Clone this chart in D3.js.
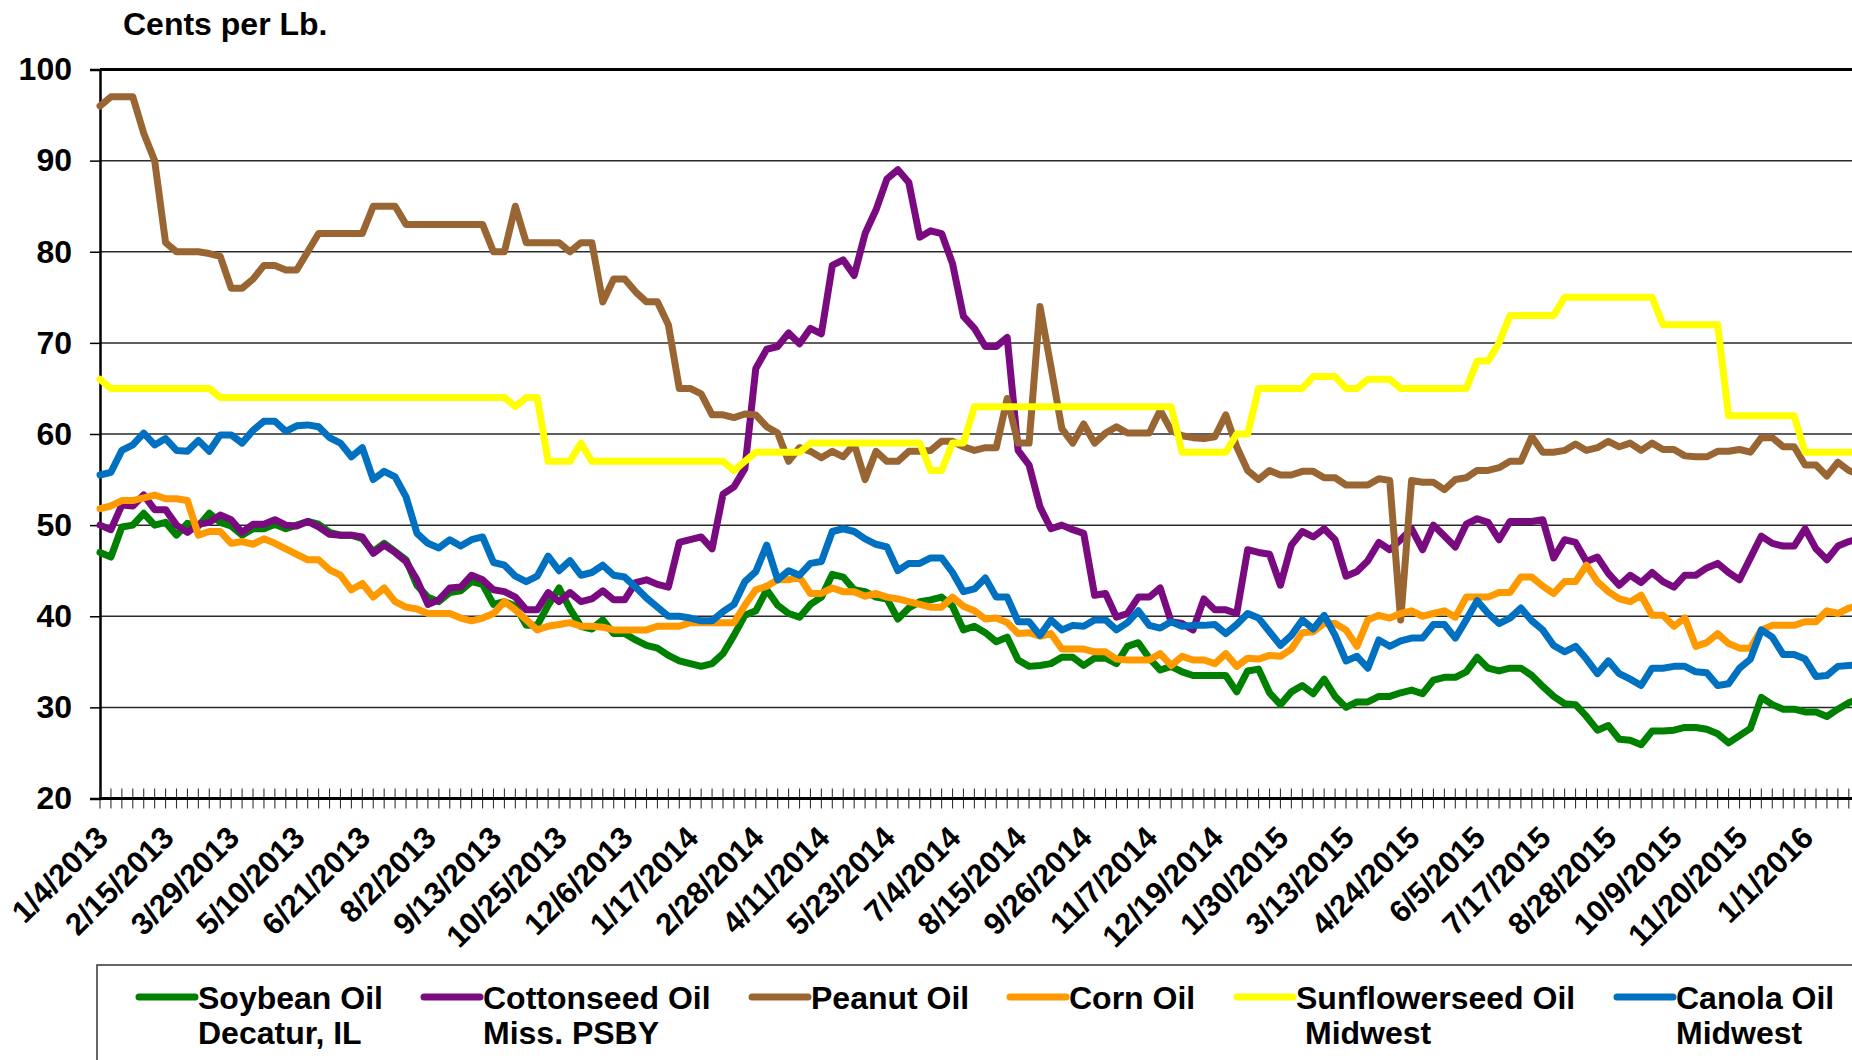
<!DOCTYPE html>
<html>
<head>
<meta charset="utf-8">
<script src="https://cdn.jsdelivr.net/npm/d3@7"></script>
<style>
  html, body { margin: 0; padding: 0; background: #fff; }
  svg { display: block; font-family: "Liberation Sans", Arial, sans-serif; font-weight: bold; }
</style>
</head>
<body>
<svg id="chart" width="1852" height="1060"></svg>
<script>
// Weekly vegetable oil prices, cents per lb, first week ending 1/4/2013
const firstWeek = new Date(2013, 0, 4);

const tickLabels = ["1/4/2013","2/15/2013","3/29/2013","5/10/2013","6/21/2013","8/2/2013",
  "9/13/2013","10/25/2013","12/6/2013","1/17/2014","2/28/2014","4/11/2014","5/23/2014",
  "7/4/2014","8/15/2014","9/26/2014","11/7/2014","12/19/2014","1/30/2015","3/13/2015",
  "4/24/2015","6/5/2015","7/17/2015","8/28/2015","10/9/2015","11/20/2015","1/1/2016"];

const yTicks = [20, 30, 40, 50, 60, 70, 80, 90, 100];

const seriesNames = ["Soybean Oil", "Cottonseed Oil", "Peanut Oil", "Corn Oil", "Sunflowerseed Oil", "Canola Oil"];
const seriesSub   = ["Decatur, IL", "Miss. PSBY", "", "", "Midwest", "Midwest"];
const seriesColors = ["#008000", "#7a0a80", "#996633", "#ff9900", "#ffff00", "#0070c0"];

const soybean = [
  47, 46.5, 49.8, 50, 51.3, 50, 50.3, 48.9, 50.2, 49.9,
  51.3, 50.3, 49.9, 48.9, 49.6, 49.6, 50.1, 49.6, 50, 50.4,
  50.1, 49.2, 48.9, 48.9, 48.5, 47.1, 48, 47.1, 46.2, 43.4,
  42.1, 41.6, 42.6, 42.8, 43.8, 43.5, 41.3, 41.6, 41.1, 39,
  39, 41.2, 43.1, 40.8, 38.9, 38.6, 39.6, 38.1, 38.1, 37.4,
  36.8, 36.5, 35.7, 35.1, 34.8, 34.5, 34.8, 35.9, 37.9, 40.1,
  40.6, 42.9, 41.2, 40.3, 39.9, 41.3, 42.1, 44.6, 44.3, 42.9,
  42.7, 42.1, 41.9, 39.7, 40.9, 41.6, 41.8, 42.1, 41.1, 38.5,
  38.9, 38.2, 37.2, 37.7, 35.2, 34.5, 34.6, 34.8, 35.5, 35.5,
  34.6, 35.4, 35.4, 34.8, 36.7, 37.1, 35.4, 34.1, 34.5, 33.9,
  33.5, 33.5, 33.5, 33.5, 31.7, 34, 34.2, 31.6, 30.3, 31.7,
  32.4, 31.5, 33.1, 31.2, 30, 30.6, 30.6, 31.2, 31.2, 31.6,
  31.9, 31.5, 33, 33.3, 33.3, 33.9, 35.5, 34.3, 34, 34.3,
  34.3, 33.5, 32.3, 31.2, 30.4, 30.3, 29, 27.5, 28, 26.5,
  26.4, 25.9, 27.4, 27.4, 27.5, 27.8, 27.8, 27.6, 27.1, 26.1,
  26.9, 27.7, 31.1, 30.3, 29.8, 29.8, 29.5, 29.5, 29, 29.8,
  30.5, 31
];

const cottonseed = [
  50, 49.5, 52.2, 52.1, 53.3, 51.7, 51.7, 50, 49.2, 50.1,
  50.3, 51.1, 50.6, 49.2, 50.1, 50.1, 50.6, 50, 49.9, 50.4,
  49.8, 49, 48.9, 48.9, 48.7, 46.9, 47.8, 47, 46, 44,
  41.3, 41.8, 43.1, 43.2, 44.5, 44, 42.9, 42.7, 42.1, 40.7,
  40.7, 42.6, 41.6, 42.6, 41.6, 41.9, 42.8, 41.8, 41.8, 43.7,
  44, 43.5, 43.2, 48.1, 48.4, 48.7, 47.4, 53.4, 54.2, 56.2,
  67.2, 69.3, 69.6, 71.1, 69.9, 71.6, 71, 78.5, 79.1, 77.4,
  82, 84.6, 88, 89, 87.6, 81.6, 82.3, 82, 78.7, 72.9,
  71.6, 69.6, 69.6, 70.6, 58.2, 56.6, 52, 49.6, 50, 49.5,
  49.1, 42.3, 42.5, 39.9, 40.3, 42.1, 42.1, 43.1, 39.4, 39.2,
  38.5, 41.9, 40.7, 40.7, 40.3, 47.3, 47, 46.8, 43.4, 47.8,
  49.3, 48.7, 49.6, 48.4, 44.4, 44.9, 46.1, 48.1, 47.3, 48.4,
  49.6, 47.3, 50, 48.8, 47.6, 50.1, 50.7, 50.3, 48.4, 50.4,
  50.4, 50.4, 50.6, 46.4, 48.4, 48.1, 46, 46.5, 44.7, 43.4,
  44.5, 43.7, 44.8, 43.8, 43.2, 44.5, 44.5, 45.3, 45.8, 44.8,
  44, 46.4, 48.8, 48, 47.7, 47.7, 49.6, 47.4, 46.2, 47.7,
  48.2, 48.5
];

const peanut = [
  96, 97, 97, 97, 93, 90, 81, 80, 80, 80,
  79.8, 79.5, 76, 76, 77, 78.5, 78.5, 78, 78, 80,
  82, 82, 82, 82, 82, 85, 85, 85, 83, 83,
  83, 83, 83, 83, 83, 83, 80, 80, 85, 81,
  81, 81, 81, 80, 81, 81, 74.5, 77, 77, 75.6,
  74.5, 74.5, 72, 65, 65, 64.4, 62.1, 62.1, 61.8, 62.2,
  62.1, 60.8, 60.1, 57, 58.5, 58.1, 57.4, 58.1, 57.5, 58.9,
  55, 58.1, 57, 57, 58.1, 58.1, 58.2, 59.2, 59.2, 58.6,
  58.2, 58.5, 58.5, 63.9, 59, 59, 74, 67.4, 60.6, 59,
  61.1, 59, 60.1, 60.8, 60.1, 60.1, 60.1, 62.6, 60.4, 59.8,
  59.6, 59.5, 59.7, 62.1, 58.6, 56, 55, 56, 55.5, 55.5,
  55.9, 55.9, 55.2, 55.2, 54.4, 54.4, 54.4, 55.1, 54.9, 39.6,
  54.9, 54.7, 54.7, 53.9, 55, 55.2, 56, 56, 56.3, 57,
  57, 59.7, 58, 58, 58.2, 58.9, 58.2, 58.5, 59.2, 58.6,
  59, 58.2, 59, 58.3, 58.3, 57.6, 57.5, 57.5, 58.1, 58.1,
  58.3, 58, 59.6, 59.6, 58.6, 58.6, 56.6, 56.6, 55.4, 56.9,
  56, 55.5
];

const corn = [
  51.8, 52.1, 52.7, 52.7, 53, 53.3, 52.9, 52.9, 52.7, 48.9,
  49.3, 49.3, 48, 48.2, 47.9, 48.5, 48, 47.4, 46.8, 46.2,
  46.2, 45.1, 44.5, 42.9, 43.6, 42.1, 43.1, 41.6, 41, 40.8,
  40.3, 40.3, 40.3, 39.8, 39.5, 39.8, 40.3, 41.6, 40.7, 39.6,
  38.5, 38.9, 39.1, 39.3, 38.9, 38.9, 38.8, 38.5, 38.5, 38.5,
  38.5, 38.9, 38.9, 38.9, 39.3, 39.3, 39.3, 39.3, 39.3, 41.2,
  42.9, 43.3, 44, 44, 44.3, 42.5, 42.5, 43.1, 42.7, 42.7,
  42.2, 42.5, 42.1, 41.9, 41.6, 41.3, 41, 41, 42.1, 41.1,
  40.6, 39.7, 39.8, 39.3, 38.1, 38.2, 37.8, 38.1, 36.4, 36.4,
  36.4, 36.1, 36.1, 35.3, 35.2, 35.2, 35.2, 35.9, 34.6, 35.6,
  35.2, 35.2, 34.8, 35.9, 34.5, 35.4, 35.3, 35.7, 35.6, 36.4,
  38.2, 38.3, 39.2, 39.2, 38.5, 36.7, 39.6, 40.1, 39.8, 40.3,
  40.6, 40, 40.3, 40.6, 39.9, 42.1, 42.1, 42.1, 42.6, 42.6,
  44.3, 44.3, 43.3, 42.5, 43.8, 43.8, 45.6, 43.8, 42.7, 41.9,
  41.6, 42.3, 40.1, 40.1, 38.9, 39.8, 36.7, 37.1, 38.1, 37,
  36.5, 36.5, 38.5, 39, 39, 39, 39.4, 39.4, 40.6, 40.3,
  40.9, 41.2
];

const sunflowerseed = [
  66, 65, 65, 65, 65, 65, 65, 65, 65, 65,
  65, 64, 64, 64, 64, 64, 64, 64, 64, 64,
  64, 64, 64, 64, 64, 64, 64, 64, 64, 64,
  64, 64, 64, 64, 64, 64, 64, 64, 63, 64,
  64, 57, 57, 57, 59, 57, 57, 57, 57, 57,
  57, 57, 57, 57, 57, 57, 57, 57, 56, 57,
  58, 58, 58, 58, 58, 59, 59, 59, 59, 59,
  59, 59, 59, 59, 59, 59, 56, 56, 59, 59,
  63, 63, 63, 63, 63, 63, 63, 63, 63, 63,
  63, 63, 63, 63, 63, 63, 63, 63, 63, 58,
  58, 58, 58, 58, 60, 60, 65, 65, 65, 65,
  65, 66.3, 66.3, 66.3, 65, 65, 66, 66, 66, 65,
  65, 65, 65, 65, 65, 65, 68, 68, 70, 73,
  73, 73, 73, 73, 75, 75, 75, 75, 75, 75,
  75, 75, 75, 72, 72, 72, 72, 72, 72, 62,
  62, 62, 62, 62, 62, 62, 58, 58, 58, 58,
  58, 58
];

const canola = [
  55.5, 55.8, 58.2, 58.8, 60.1, 58.8, 59.5, 58.2, 58.1, 59.3,
  58.1, 59.9, 59.9, 59, 60.4, 61.4, 61.4, 60.3, 60.9, 61,
  60.8, 59.6, 59, 57.5, 58.5, 55, 55.9, 55.3, 53.1, 49.1,
  48, 47.5, 48.4, 47.7, 48.4, 48.7, 45.9, 45.6, 44.4, 43.8,
  44.4, 46.6, 45, 46.1, 44.5, 44.8, 45.6, 44.5, 44.3, 43.2,
  42, 41, 40, 40, 39.8, 39.5, 39.5, 40.5, 41.3, 43.8,
  44.9, 47.8, 44, 45, 44.5, 45.8, 46, 49.3, 49.6, 49.3,
  48.5, 47.9, 47.6, 45, 45.8, 45.8, 46.4, 46.4, 44.8, 42.7,
  43, 44.2, 42.1, 42.1, 39.4, 39.4, 37.9, 39.6, 38.5, 39,
  38.9, 39.6, 39.6, 38.5, 39.3, 40.6, 39, 38.7, 39.4, 38.9,
  39, 39, 39.1, 38.1, 39.1, 40.3, 39.8, 38.3, 36.8, 37.9,
  39.6, 38.6, 40.1, 37.9, 35.1, 35.6, 34.3, 37.4, 36.7, 37.3,
  37.6, 37.6, 39.1, 39.1, 37.6, 39.6, 41.7, 40.3, 39.2, 39.8,
  40.9, 39.5, 38.5, 36.8, 36.1, 36.7, 35.3, 33.7, 35.1, 33.7,
  33.1, 32.4, 34.3, 34.3, 34.5, 34.5, 33.9, 33.8, 32.4, 32.6,
  34.3, 35.3, 38.5, 37.7, 35.8, 35.8, 35.3, 33.4, 33.5, 34.5,
  34.6, 34.7
];

const allSeries = [soybean, cottonseed, peanut, corn, sunflowerseed, canola];

// ---- layout ----
const W = 1852, H = 1060;
const plotLeft = 100, plotTop = 69.5, plotBottom = 798.5;
const weekStep = 10.93;

const fmt = d3.timeFormat("%-m/%-d/%Y");
const weeks = d3.range(soybean.length).map(i => fmt(d3.timeDay.offset(firstWeek, 7 * i)));

const x = d3.scalePoint()
  .domain(weeks)
  .range([plotLeft, plotLeft + weekStep * (weeks.length - 1)]);

const y = d3.scaleLinear().domain([20, 100]).range([plotBottom, plotTop]);

const svg = d3.select("#chart");

// horizontal gridlines
svg.append("g").selectAll("line")
  .data(yTicks.filter(v => v > 20 && v < 100))
  .join("line")
  .attr("x1", plotLeft).attr("x2", W)
  .attr("y1", d => y(d)).attr("y2", d => y(d))
  .attr("stroke", "#2a2a2a").attr("stroke-width", 1.5);

// top border of the plot area
svg.append("line")
  .attr("x1", plotLeft).attr("x2", W)
  .attr("y1", y(100)).attr("y2", y(100))
  .attr("stroke", "#000").attr("stroke-width", 3);

// value axis
const yAxis = d3.axisLeft(y).tickValues(yTicks).tickSize(10).tickPadding(18);
const gy = svg.append("g").attr("transform", `translate(${plotLeft},0)`).call(yAxis);
gy.select(".domain").attr("stroke", "#000").attr("stroke-width", 2.5);
gy.selectAll(".tick line").attr("stroke", "#000").attr("stroke-width", 1.5);
gy.selectAll(".tick text")
  .attr("font-size", 32).attr("font-weight", "bold")
  .attr("font-family", '"Liberation Sans", Arial, sans-serif')
  .attr("fill", "#000");

// week tick marks crossing the category axis
svg.append("g").selectAll("line")
  .data(weeks)
  .join("line")
  .attr("x1", d => x(d)).attr("x2", d => x(d))
  .attr("y1", plotBottom - 10).attr("y2", plotBottom + 10)
  .attr("stroke", "#333").attr("stroke-width", 1.1);

// category axis line
svg.append("line")
  .attr("x1", plotLeft - 1).attr("x2", W)
  .attr("y1", plotBottom).attr("y2", plotBottom)
  .attr("stroke", "#000").attr("stroke-width", 3);

// date labels every six weeks
svg.append("g").selectAll("text")
  .data(tickLabels)
  .join("text")
  .attr("transform", d => `translate(${x(d) + 10},${plotBottom + 41}) rotate(-45)`)
  .attr("text-anchor", "end")
  .attr("font-size", 31)
  .attr("fill", "#000")
  .text(d => d);

// axis title
svg.append("text")
  .attr("x", 123).attr("y", 35)
  .attr("font-size", 32).attr("fill", "#000")
  .text("Cents per Lb.");

// price lines, drawn in legend order
const line = d3.line()
  .x((d, i) => x(weeks[i]))
  .y(d => y(d));

svg.append("g").selectAll("path")
  .data(allSeries)
  .join("path")
  .attr("d", d => line(d))
  .attr("fill", "none")
  .attr("stroke", (d, i) => seriesColors[i])
  .attr("stroke-width", 7)
  .attr("stroke-linejoin", "round")
  .attr("stroke-linecap", "round");

// legend
const legendTop = 965;
const legendX = [139, 424, 752, 1010, 1237, 1617];
svg.append("rect")
  .attr("x", 97).attr("y", legendTop)
  .attr("width", W).attr("height", 200)
  .attr("fill", "none").attr("stroke", "#333").attr("stroke-width", 1.5);

const items = svg.append("g").selectAll("g")
  .data(seriesNames)
  .join("g")
  .attr("transform", (d, i) => `translate(${legendX[i]},0)`);

items.append("line")
  .attr("x1", 0).attr("x2", 56)
  .attr("y1", legendTop + 32).attr("y2", legendTop + 32)
  .attr("stroke", (d, i) => seriesColors[i])
  .attr("stroke-width", 7).attr("stroke-linecap", "round");

items.append("text")
  .attr("x", 59).attr("y", legendTop + 44)
  .attr("font-size", 32).attr("fill", "#000")
  .text(d => d);

items.append("text")
  .attr("x", (d, i) => i === 4 ? 68 : 59)
  .attr("y", legendTop + 79)
  .attr("font-size", 32).attr("fill", "#000")
  .text((d, i) => seriesSub[i]);
</script>
</body>
</html>
